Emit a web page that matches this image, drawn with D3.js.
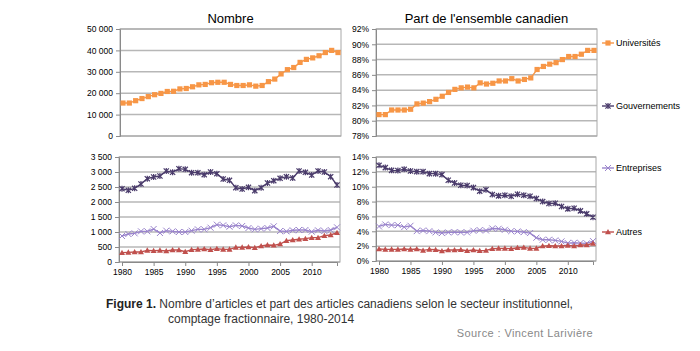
<!DOCTYPE html>
<html><head><meta charset="utf-8">
<script src="https://cdn.jsdelivr.net/npm/d3@7"></script>
<style>
body{margin:0;background:#fff;}
svg{display:block;}
.tk{font-family:"Liberation Sans Narrow","Arial Narrow","Liberation Sans",Arial,sans-serif;font-size:8.5px;fill:#000;}
.ttl{font-family:"Liberation Sans Narrow","Arial Narrow","Liberation Sans",Arial,sans-serif;font-size:13px;fill:#000;}
.lg{font-family:"Liberation Sans Narrow","Arial Narrow","Liberation Sans",Arial,sans-serif;font-size:9px;fill:#000;}
.cap{font-family:"Liberation Sans",Arial,sans-serif;font-size:12px;fill:#333;}
.src{font-family:"Liberation Sans",Arial,sans-serif;font-size:11px;fill:#888;}
</style></head>
<body><svg id="c" width="700" height="351"></svg>
<script>
const years = d3.range(1980, 2015);
const xTicks = [1980,1985,1990,1995,2000,2005,2010];

// Nombre d'articles
const nbUniv = [15400,15400,16500,17500,18400,19300,19900,20800,20900,22000,22200,23000,23900,24100,24900,25100,25100,24100,23600,23600,23900,23300,23600,25400,26600,29000,31000,32000,34400,35800,36500,37500,39000,40000,39000];
const nbGouv = [2444,2389,2456,2600,2778,2833,2867,3033,2989,3111,3089,2978,2978,2911,3000,2944,2767,2722,2478,2433,2489,2378,2478,2633,2711,2789,2844,2800,3033,2989,2900,3033,3000,2844,2567];
const nbEntr = [867,933,955,1022,1022,1100,967,1044,1022,1000,1000,1044,1089,1089,1144,1244,1222,1178,1222,1200,1133,1089,1111,1133,1189,1033,1022,1056,1067,1067,1011,1056,1033,1067,1156];
const nbAutr = [311,322,333,333,389,378,389,367,400,400,344,411,422,433,411,444,422,422,489,489,500,478,533,567,556,600,711,733,756,778,811,811,878,900,978];

// Part de l'ensemble canadien (%)
const ptUniv = [80.8,80.8,81.4,81.4,81.4,81.5,82.2,82.3,82.5,82.8,83.2,83.7,84.1,84.3,84.4,84.3,84.95,84.8,84.9,85.2,85.2,85.5,85.2,85.4,85.6,86.7,87.1,87.4,87.6,88.0,88.4,88.4,88.7,89.2,89.2];
const ptGouv = [12.88,12.57,12.2,12.17,12.34,12.12,12.03,12.03,11.76,11.76,11.63,10.87,10.5,10.2,10.15,9.88,9.4,9.6,8.94,8.77,8.86,8.72,8.99,8.86,8.72,8.4,8.0,7.74,7.78,7.34,7.02,7.1,6.75,6.35,5.9];
const ptEntr = [4.65,4.92,4.83,4.83,4.56,4.74,4.02,4.11,4.02,3.85,3.76,3.85,3.89,3.85,3.85,4.07,4.16,4.11,4.38,4.34,4.2,4.02,3.98,3.89,3.76,3.13,2.86,2.86,2.77,2.64,2.41,2.46,2.41,2.37,2.68];
const ptAutr = [1.61,1.57,1.57,1.57,1.61,1.57,1.61,1.43,1.57,1.52,1.34,1.48,1.48,1.52,1.39,1.48,1.39,1.43,1.65,1.7,1.7,1.65,1.79,1.83,1.7,1.7,2.01,2.06,2.01,2.01,2.1,2.01,2.15,2.15,2.37];

const nbTopTicks = [0,10000,20000,30000,40000,50000];
const nbBotTicks = [0,500,1000,1500,2000,2500,3000,3500];
const ptTopTicks = [78,80,82,84,86,88,90,92];
const ptBotTicks = [0,2,4,6,8,10,12,14];

const seriesNames = ["Universités","Gouvernements","Entreprises","Autres"];
const seriesColors = {"Universités":"#F79646","Gouvernements":"#4a3b6b","Entreprises":"#9a84cc","Autres":"#C0504D"};
const seriesMarkers = {"Universités":"square","Gouvernements":"star","Entreprises":"x","Autres":"triangle"};

const svg = d3.select("#c");
const fmtNb = v => v === 0 ? "0" : d3.format(",")(v).replace(/,/g, " ");
const fmtPt = v => v + "%";

function marker(g, type, x, y, color){
  if(type==="square"){
    g.append("rect").attr("x",x-2.6).attr("y",y-2.6).attr("width",5.2).attr("height",5.2).attr("fill",color);
  } else if(type==="triangle"){
    g.append("path").attr("d",`M${x},${y-3}L${x+3},${y+2.3}L${x-3},${y+2.3}Z`).attr("fill",color);
  } else if(type==="x"){
    g.append("path").attr("d",`M${x-3},${y-3}L${x+3},${y+3}M${x-3},${y+3}L${x+3},${y-3}`).attr("stroke",color).attr("stroke-width",1).attr("fill","none");
  } else if(type==="star"){
    g.append("path").attr("d",`M${x-2.6},${y-2.6}L${x+2.6},${y+2.6}M${x-2.6},${y+2.6}L${x+2.6},${y-2.6}M${x},${y-3}L${x},${y+3}`).attr("stroke",color).attr("stroke-width",1.2).attr("fill","none");
  }
}

function panel(box, yDomain, ticks, fmt, series, showX, title){
  const x = d3.scaleLinear().domain([1980,2014]).range([box.x0+3, box.x1-3]);
  const y = d3.scaleLinear().domain(yDomain).range([box.y1, box.y0]);
  const g = svg.append("g");
  g.selectAll("line.grid").data(ticks).enter().append("line")
    .attr("x1",box.x0).attr("x2",box.x1).attr("y1",d=>y(d)).attr("y2",d=>y(d))
    .attr("stroke","#b7b7b7").attr("stroke-width",1.5);
  g.append("rect").attr("x",box.x0).attr("y",box.y0).attr("width",box.x1-box.x0).attr("height",box.y1-box.y0)
    .attr("fill","none").attr("stroke","#a8a8a8").attr("stroke-width",1);
  const ya = d3.axisLeft(y).tickValues(ticks).tickFormat(fmt).tickSize(4).tickPadding(3);
  const yg = g.append("g").attr("transform",`translate(${box.x0},0)`).call(ya);
  yg.select(".domain").attr("stroke","#8a8a8a");
  yg.selectAll(".tick line").attr("stroke","#8a8a8a");
  yg.selectAll("text").attr("class","tk");
  if(showX){
    const xa = d3.axisBottom(x).tickValues(xTicks).tickFormat(d3.format("d")).tickSize(4).tickPadding(3);
    const xg = g.append("g").attr("transform",`translate(0,${box.y1})`).call(xa);
    xg.select(".domain").attr("stroke","#8a8a8a");
    xg.selectAll(".tick line").attr("stroke","#8a8a8a");
    xg.selectAll("text").attr("class","tk");
  }
  if(title){
    g.append("text").attr("class","ttl").attr("x",(box.x0+box.x1)/2).attr("y",box.y0-6)
      .attr("text-anchor","middle").text(title);
  }
  series.forEach(s=>{
    const col = seriesColors[s.name];
    const line = d3.line().x((d,i)=>x(years[i])).y(d=>y(d));
    g.append("path").datum(s.values).attr("d",line).attr("fill","none")
      .attr("stroke",col).attr("stroke-width",1.4);
    const mg = g.append("g");
    s.values.forEach((v,i)=>marker(mg, seriesMarkers[s.name], x(years[i]), y(v), col));
  });
}

panel({x0:120,x1:341,y0:29,y1:136},[0,50000],nbTopTicks,fmtNb,
  [{name:"Universités",values:nbUniv}],false,"Nombre");
panel({x0:376,x1:597,y0:29,y1:136},[78,92],ptTopTicks,fmtPt,
  [{name:"Universités",values:ptUniv}],false,"Part de l'ensemble canadien");
panel({x0:119,x1:340,y0:157,y1:262},[0,3500],nbBotTicks,fmtNb,
  [{name:"Gouvernements",values:nbGouv},{name:"Entreprises",values:nbEntr},{name:"Autres",values:nbAutr}],true,null);
panel({x0:376,x1:596,y0:157,y1:261},[0,14],ptBotTicks,fmtPt,
  [{name:"Gouvernements",values:ptGouv},{name:"Entreprises",values:ptEntr},{name:"Autres",values:ptAutr}],true,null);

const legY = {"Universités":43,"Gouvernements":106,"Entreprises":168,"Autres":232};
const lg = svg.append("g");
seriesNames.forEach(n=>{
  const col = seriesColors[n];
  lg.append("line").attr("x1",602).attr("x2",614).attr("y1",legY[n]).attr("y2",legY[n]).attr("stroke",col).attr("stroke-width",1.4);
  marker(lg, seriesMarkers[n], 608, legY[n], col);
  lg.append("text").attr("class","lg").attr("x",616).attr("y",legY[n]+3).text(n);
});

const cap = svg.append("text").attr("class","cap").attr("x",106).attr("y",308);
cap.append("tspan").attr("font-weight","bold").attr("fill","#222").text("Figure 1.");
cap.append("tspan").text(" Nombre d’articles et part des articles canadiens selon le secteur institutionnel,");
svg.append("text").attr("class","cap").attr("x",168).attr("y",323).text("comptage fractionnaire, 1980-2014");
svg.append("text").attr("class","src").attr("x",593).attr("y",337).attr("text-anchor","end")
  .attr("letter-spacing","0.4").text("Source : Vincent Larivière");
</script></body></html>
